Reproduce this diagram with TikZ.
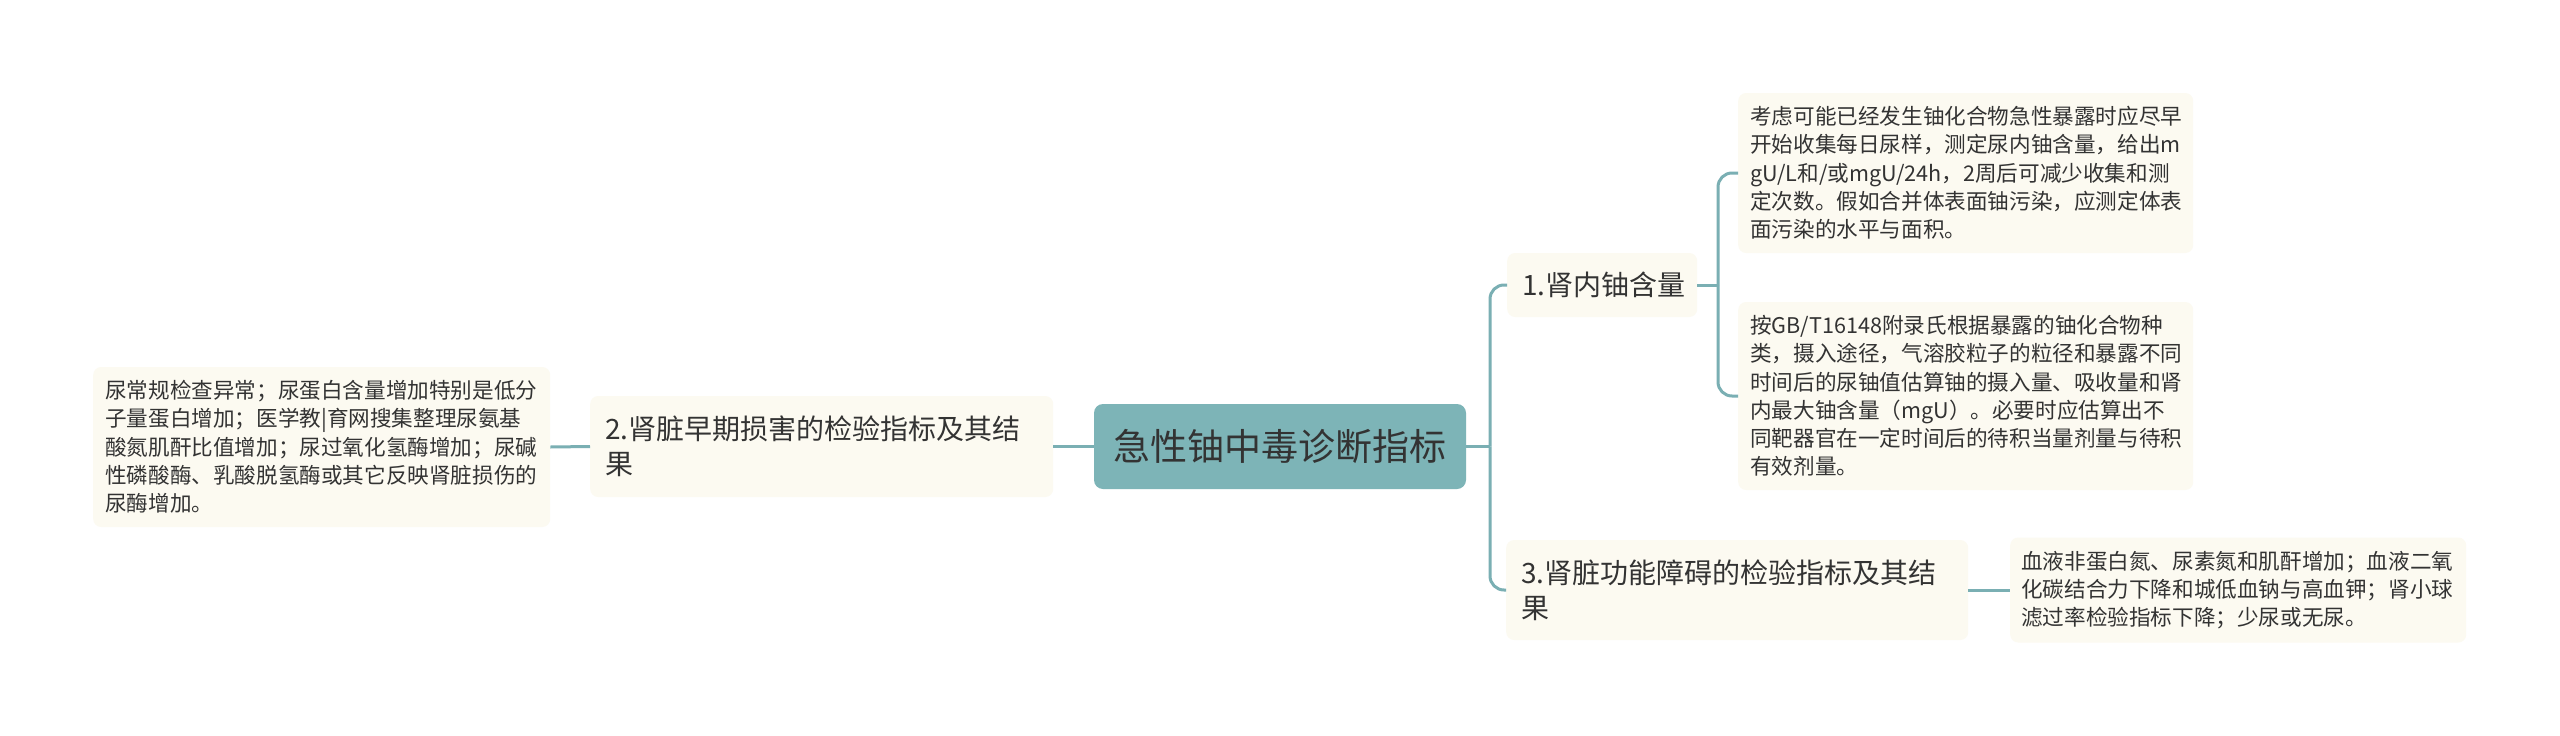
\documentclass[tikz,border=0pt]{standalone}
\usepackage{fontspec}
\setmainfont{Noto Sans CJK SC}
\definecolor{teal1}{HTML}{7DB4B7}
\definecolor{linec}{HTML}{7AAFB3}
\definecolor{cream}{HTML}{FCFAF1}
\definecolor{txt}{HTML}{333333}
\tikzset{
  box/.style={draw=none, fill=cream, rounded corners=8pt, text=txt, align=left, inner ysep=0pt, anchor=west},
  rootbox/.style={draw=none, fill=teal1, rounded corners=9pt, text=txt, align=center, inner sep=0pt, minimum width=372pt, minimum height=85pt},
  link/.style={draw=linec, line width=3pt, rounded corners=14pt},
  midfont/.style={font=\fontsize{28}{35}\selectfont},
  leaffont/.style={font=\fontsize{21.6}{28.3}\selectfont}
}
\begin{document}
\begin{tikzpicture}[x=1pt,y=-1pt]
\useasboundingbox (0,0) rectangle (2560,736);
\fill[white] (0,0) rectangle (2560,736);

\node[rootbox, font=\fontsize{37}{44}\selectfont] (root) at (1280,446.5) {急性铀中毒诊断指标};

% left side
\node[box, midfont, minimum height=101pt, text width=433pt, inner xsep=15pt] (b2) at (590,446.5)
  {2.肾脏早期损害的检验指标及其结\\果};
\node[box, leaffont, minimum height=160pt, text width=433pt, inner xsep=12pt] (l2) at (93,447)
  {尿常规检查异常；尿蛋白含量增加特别是低分\\子量蛋白增加；医学教|育网搜集整理尿氨基\\酸氮肌酐比值增加；尿过氧化氢酶增加；尿碱\\性磷酸酶、乳酸脱氢酶或其它反映肾脏损伤的\\尿酶增加。};

% right side
\node[box, midfont, minimum height=64pt, text width=160pt, inner xsep=15pt] (b1) at (1507,285)
  {1.肾内铀含量};
\node[box, midfont, minimum height=100pt, text width=432pt, inner xsep=15pt] (b3) at (1506,590)
  {3.肾脏功能障碍的检验指标及其结\\果};

\node[box, leaffont, minimum height=160pt, text width=431pt, inner xsep=12pt] (l1a) at (1738,173)
  {考虑可能已经发生铀化合物急性暴露时应尽早\\开始收集每日尿样，测定尿内铀含量，给出m\\gU/L和/或mgU/24h，2周后可减少收集和测\\定次数。假如合并体表面铀污染，应测定体表\\面污染的水平与面积。};
\node[box, leaffont, minimum height=188pt, text width=431pt, inner xsep=12pt] (l1b) at (1738,396)
  {按GB/T16148附录氏根据暴露的铀化合物种\\类，摄入途径，气溶胶粒子的粒径和暴露不同\\时间后的尿铀值估算铀的摄入量、吸收量和肾\\内最大铀含量（mgU）。必要时应估算出不\\同靶器官在一定时间后的待积当量剂量与待积\\有效剂量。};
\node[box, leaffont, minimum height=105pt, text width=434pt, inner xsep=11pt] (l3) at (2010,590)
  {血液非蛋白氮、尿素氮和肌酐增加；血液二氧\\化碳结合力下降和城低血钠与高血钾；肾小球\\滤过率检验指标下降；少尿或无尿。};

% connectors
\coordinate (T) at (1490,446.5);
\coordinate (J1) at (1718,285);
\draw[link] (root.west) -- (b2.east);
\draw[link] (b2.west) -- (l2.east);
\draw[link] (root.east) -- (T);
\draw[link] (T) |- (b1.west);
\draw[link] (T) |- (b3.west);
\draw[link] (b1.east) -- (J1);
\draw[link] (J1) |- (l1a.west);
\draw[link] (J1) |- (l1b.west);
\draw[link] (b3.east) -- (l3.west);
\end{tikzpicture}
\end{document}
